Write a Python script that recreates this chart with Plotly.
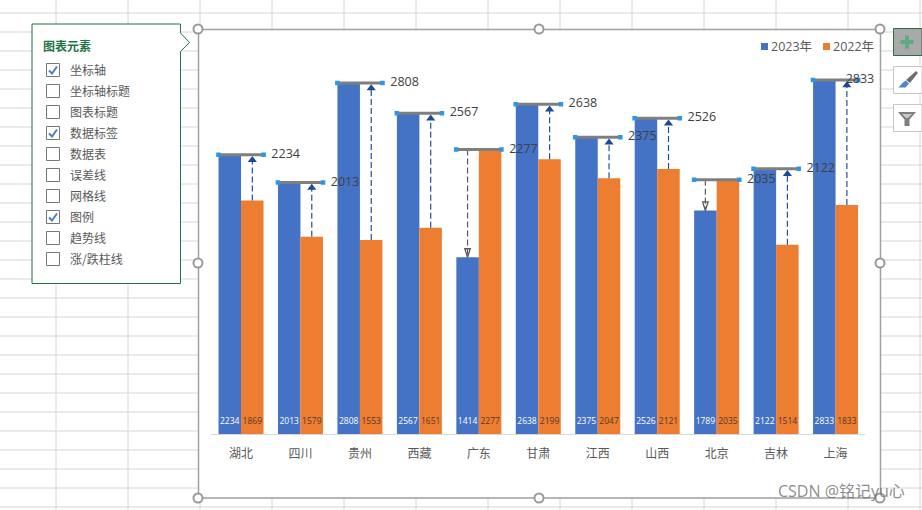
import plotly.graph_objects as go

categories = ["湖北", "四川", "贵州", "西藏", "广东", "甘肃", "江西", "山西", "北京", "吉林", "上海"]
values_2023 = [2234, 2013, 2808, 2567, 1414, 2638, 2375, 2526, 1789, 2122, 2833]
values_2022 = [1869, 1579, 1553, 1651, 2277, 2199, 2047, 2121, 2035, 1514, 1833]
series_names = ["2023年", "2022年"]
panel_title = "图表元素"
panel_items = ["坐标轴", "坐标轴标题", "图表标题", "数据标签", "数据表", "误差线", "网格线", "图例", "趋势线", "涨/跌柱线"]
panel_checked = [True, False, False, True, False, False, False, True, False, False]
watermark = "CSDN @铭记yu心"

W, H = 922, 510
BLUE, ORANGE = "#4472C4", "#ED7D31"
CJK = "Noto Sans CJK SC"
LATIN = "Open Sans"


def X(p):
    return p / W


def Y(p):
    return 1 - p / H


shapes, annotations = [], []


def rect(x0, y0, x1, y1, fill="rgba(0,0,0,0)", line=None, lw=1):
    shapes.append(dict(type="rect", xref="paper", yref="paper", x0=X(x0), x1=X(x1), y0=Y(y0), y1=Y(y1),
                       fillcolor=fill, line=dict(color=line or "rgba(0,0,0,0)", width=lw if line else 0), layer="below"))


def seg(x0, y0, x1, y1, color, lw=1):
    shapes.append(dict(type="line", xref="paper", yref="paper", x0=X(x0), x1=X(x1), y0=Y(y0), y1=Y(y1),
                       line=dict(color=color, width=lw), layer="below"))


def poly(pts, fill="rgba(0,0,0,0)", line=None, lw=1, close=True):
    d = "M" + " L".join(f"{X(a):.5f},{Y(b):.5f}" for a, b in pts) + (" Z" if close else "")
    shapes.append(dict(type="path", xref="paper", yref="paper", path=d, fillcolor=fill,
                       line=dict(color=line or "rgba(0,0,0,0)", width=lw if line else 0), layer="below"))


def circle(cx, cy, r=4.5):
    shapes.append(dict(type="circle", xref="paper", yref="paper", x0=X(cx - r), x1=X(cx + r), y0=Y(cy + r), y1=Y(cy - r),
                       fillcolor="white", line=dict(color="#9a9a9a", width=2), layer="below"))


def label(px, py, text, size=12, color="#595959", anchor="left", family=CJK, bold=False):
    annotations.append(dict(xref="paper", yref="paper", x=X(px), y=Y(py), text=f"<b>{text}</b>" if bold else text,
                            showarrow=False, xanchor=anchor, yanchor="middle", borderpad=0,
                            font=dict(size=size, color=color, family=family)))


# spreadsheet grid behind the chart
for gx in range(56, W, 72):
    seg(gx, 0, gx, H, "#d6d6d6")
for gy in range(13, H, 19):
    seg(0, gy, W, gy, "#d6d6d6")

# chart frame
rect(198.5, 29.5, 880.5, 498, fill="white", line="#a0a0a0", lw=1.5)
for hx, hy in [(198, 29), (539, 29), (880, 29), (198, 263), (880, 263), (198, 498), (539, 498), (880, 498)]:
    circle(hx, hy)

# chart elements panel
poly([(32, 24), (180.5, 24), (180.5, 33), (189.5, 42.5), (180.5, 51.5), (180.5, 283.5), (32, 283.5)],
     fill="white", line="#217346", lw=1)
label(42, 45, panel_title, size=12, color="#217346", bold=True)
for k, (item, chk) in enumerate(zip(panel_items, panel_checked)):
    cy = 70 + 21 * k
    rect(46.5, cy - 6.5, 59.5, cy + 6.5, fill="white", line="#777777", lw=1)
    if chk:
        poly([(49, cy + 0.5), (52, cy + 3.5), (57, cy - 3.5)], line="#4a7ebb", lw=2, close=False)
    label(69, cy - 0.5, item, size=12)

# side buttons
rect(893.5, 28.5, 922, 55.5, fill="#a9a9a9", line="#217346", lw=1)
rect(900.5, 40, 913.5, 44, fill="#5dab85")
rect(905, 35.5, 909, 48.5, fill="#5dab85")
rect(893.5, 66.5, 922, 93.5, fill="white", line="#c6c6c6", lw=1)
poly([(916, 71), (918, 73), (910, 83), (906, 80)], fill="#6f6f6f")
poly([(905.5, 80.5), (909, 83.5), (905.5, 87.5), (898.5, 87.5), (902, 83.5)], fill="#4f86c6")
rect(893.5, 104.5, 922, 131.5, fill="white", line="#c6c6c6", lw=1)
poly([(898, 112), (916, 112), (909.5, 119.5), (909.5, 126), (904.5, 126), (904.5, 119.5)], fill="#7f7f7f")
poly([(902, 114), (912, 114), (908, 118), (906, 118)], fill="#c9c9c9")

# legend
rect(761, 43, 768, 50, fill=BLUE)
rect(823, 43, 830, 50, fill=ORANGE)
label(770, 46, series_names[0], size=12.5, family=f"{LATIN}, {CJK}")
label(832, 46, series_names[1], size=12.5, family=f"{LATIN}, {CJK}")

# watermark
label(777, 491, watermark, size=16, color="rgba(110,110,110,0.8)", family=f"{LATIN}, {CJK}")

n = len(categories)
xs = list(range(n))
top = [max(a, b) for a, b in zip(values_2023, values_2022)]

fig = go.Figure()
fig.add_bar(x=xs, y=values_2023, name=series_names[0], marker=dict(color=BLUE, line_width=0))
fig.add_bar(x=xs, y=values_2022, name=series_names[1], marker=dict(color=ORANGE, line_width=0))

# in-bar value labels
fig.add_scatter(x=[i - 0.19 for i in xs], y=[96] * n, mode="text", text=[str(v) for v in values_2023],
                textfont=dict(size=8.5, color="white", family=LATIN), hoverinfo="skip")
fig.add_scatter(x=[i + 0.19 for i in xs], y=[96] * n, mode="text", text=[str(v) for v in values_2022],
                textfont=dict(size=8.5, color="#54392a", family=LATIN), hoverinfo="skip")

# arrows between the two series
up = [i for i in xs if values_2023[i] >= values_2022[i]]
down = [i for i in xs if values_2023[i] < values_2022[i]]
lx, ly = [], []
for i in up:
    lx += [i + 0.19, i + 0.19, None]
    ly += [values_2022[i], top[i] - 40, None]
fig.add_scatter(x=lx, y=ly, mode="lines", line=dict(color="#1f4e9e", width=1.2, dash="6px,3px"), hoverinfo="skip")
fig.add_scatter(x=[i + 0.19 for i in up], y=[top[i] - 42 for i in up], mode="markers",
                marker=dict(symbol="triangle-up", size=8, color="#1c4a99"), hoverinfo="skip")
lx, ly = [], []
for i in down:
    lx += [i - 0.19, i - 0.19, None]
    ly += [top[i], values_2023[i], None]
fig.add_scatter(x=lx, y=ly, mode="lines", line=dict(color="#595959", width=1.2, dash="6px,3px"), hoverinfo="skip")
fig.add_scatter(x=[i - 0.19 for i in down], y=[values_2023[i] for i in down], mode="markers",
                marker=dict(symbol="arrow-open", angle=180, size=9, color="#595959",
                            line=dict(color="#595959", width=1.3)), hoverinfo="skip")

# top connector with handles
cx, cy = [], []
for i in xs:
    cx += [i - 0.38, i + 0.38, None]
    cy += [top[i], top[i], None]
fig.add_scatter(x=cx, y=cy, mode="lines+markers", line=dict(color="#7f7f7f", width=3),
                marker=dict(symbol="square", size=4.5, color="#2e96e6"), hoverinfo="skip")
fig.add_scatter(x=[min(i + 0.51, 10.17) for i in xs], y=top, mode="text", text=[str(v) for v in top],
                textposition="middle right", textfont=dict(size=12.5, color="#404040", family=LATIN),
                cliponaxis=False, hoverinfo="skip")

fig.update_layout(
    width=W, height=H, margin=dict(l=0, r=0, t=0, b=0, autoexpand=False), autosize=False,
    paper_bgcolor="white", plot_bgcolor="rgba(0,0,0,0)",
    barmode="group", bargap=0.243, bargroupgap=0, showlegend=False,
    shapes=shapes, annotations=annotations,
    xaxis=dict(domain=[X(211.3), X(865.3)], range=[-0.5, 10.5], tickmode="array", tickvals=xs, ticktext=categories,
               showgrid=False, zeroline=False, showline=True, linecolor="#d9d9d9", linewidth=1, ticks="",
               ticklabelstandoff=9, tickfont=dict(size=12, color="#595959", family=CJK)),
    yaxis=dict(domain=[Y(434), Y(40)], range=[0, 3153], visible=False),
)

fig.write_html("out.html", config={"displayModeBar": False},
               post_script="document.body.style.margin='0';document.body.style.overflow='hidden';")
